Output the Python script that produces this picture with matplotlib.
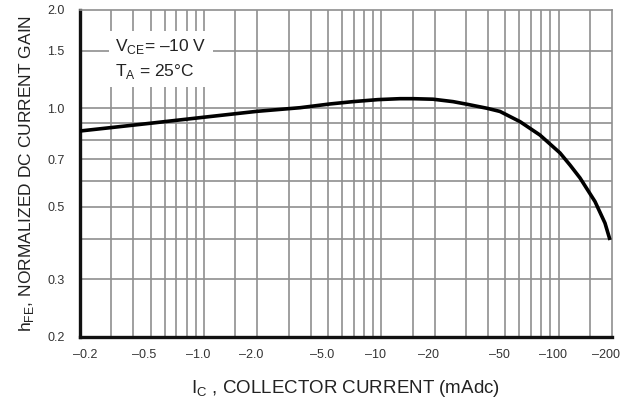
import matplotlib
matplotlib.use('Agg')
import matplotlib.pyplot as plt
import matplotlib.transforms as mtransforms
from matplotlib.ticker import FixedLocator, NullFormatter

plt.rcParams['font.family'] = ['Liberation Sans', 'DejaVu Sans']
plt.rcParams['mathtext.fontset'] = 'custom'
plt.rcParams['mathtext.rm'] = 'Liberation Sans'

# collector current (mA, magnitude) and normalized hFE
ic = [0.2, 0.5, 1.0, 2.0, 3.48, 5.14, 6.93, 9.58, 12.75, 15.1, 19.6, 25.4, 30.4,
      39.5, 46.7, 60.6, 78.5, 101.8, 116, 132, 160.4, 182.6, 194.9]
hfe = [0.853, 0.901, 0.940, 0.980, 1.005, 1.032, 1.049, 1.064, 1.071, 1.071, 1.067,
       1.049, 1.030, 1.001, 0.979, 0.911, 0.829, 0.731, 0.671, 0.613, 0.519, 0.446, 0.396]

x_ticks = [0.2, 0.5, 1, 2, 5, 10, 20, 50, 100, 200]
x_labels = ['–0.2', '–0.5', '–1.0', '–2.0', '–5.0', '–10', '–20', '–50', '–100', '–200']
y_ticks = [0.2, 0.3, 0.5, 0.7, 1.0, 1.5, 2.0]
y_labels = ['0.2', '0.3', '0.5', '0.7', '1.0', '1.5', '2.0']

# grid lines: 1, 1.5, 2 ... 9 in every decade
mults = [1, 1.5, 2, 3, 4, 5, 6, 7, 8, 9]
x_grid = [m * 10 ** e for e in (-1, 0, 1, 2) for m in mults if 0.2 < m * 10 ** e < 200]
y_grid = [m * 10 ** e for e in (-1, 0) for m in mults if 0.2 < m * 10 ** e < 2.0]

fig = plt.figure(figsize=(6.21, 3.98), dpi=100)
ax = fig.add_axes([0.1288, 0.1533, 0.8567, 0.8216])

ax.set_xscale('log')
ax.set_yscale('log')
ax.set_xlim(0.2, 200)
ax.set_ylim(0.2, 2.0)

# grid drawn with plain lines so the major positions get one too
for v in x_grid:
    ax.axvline(v, color='#8f8f8f', lw=1.2, zorder=1)
for v in y_grid:
    ax.axhline(v, color='#8f8f8f', lw=1.2, zorder=1)

ax.xaxis.set_major_locator(FixedLocator(x_ticks))
ax.xaxis.set_minor_locator(FixedLocator([]))
ax.xaxis.set_minor_formatter(NullFormatter())
ax.set_xticklabels(x_labels)
ax.yaxis.set_major_locator(FixedLocator(y_ticks))
ax.yaxis.set_minor_locator(FixedLocator([]))
ax.yaxis.set_minor_formatter(NullFormatter())
ax.set_yticklabels(y_labels)

ax.tick_params(which='both', length=0)
ax.tick_params(axis='x', pad=9, labelsize=9, labelcolor='#333333')
ax.tick_params(axis='y', pad=11, labelsize=9, labelcolor='#333333')

# the printed labels sit a little off their grid lines
for i, lab in enumerate(ax.get_xticklabels()):
    dx = 5 if i == 0 else -6
    lab.set_transform(lab.get_transform() + mtransforms.ScaledTranslation(dx / 100, 0, fig.dpi_scale_trans))

for s in ['left', 'bottom']:
    ax.spines[s].set_linewidth(2.4)
    ax.spines[s].set_color('#111111')
for s in ['top', 'right']:
    ax.spines[s].set_linewidth(1.2)
    ax.spines[s].set_color('#8f8f8f')

ax.plot(ic, hfe, color='black', lw=2.6, solid_capstyle='butt', zorder=3)

ax.text(0.066, 0.85, 'V$_{\\mathrm{CE}}$= –10 V\nT$_{\\mathrm{A}}$ = 25°C', transform=ax.transAxes,
        ha='left', va='center', fontsize=12.5, color='#222222', linespacing=1.45,
        bbox=dict(boxstyle='square,pad=0.35', fc='white', ec='none'), zorder=4)

ax.set_xlabel('I$_{\\mathrm{C}}$ , COLLECTOR CURRENT (mAdc)', fontsize=13.5, color='#222222', labelpad=12)
ax.set_ylabel('h$_{\\mathrm{FE}}$, NORMALIZED DC CURRENT GAIN', fontsize=12.5, color='#222222', labelpad=8)

fig.savefig('out.png', dpi=100)
